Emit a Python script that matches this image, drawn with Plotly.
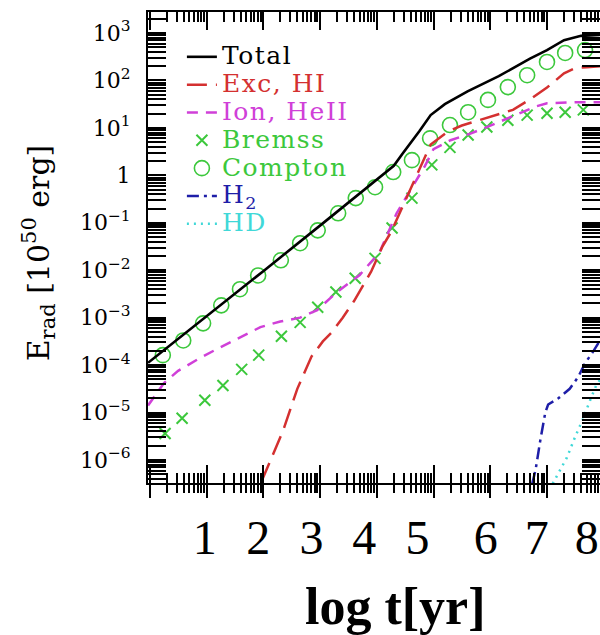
import numpy as np
import plotly.graph_objects as go

# ---- data (log t [yr], log10 E_rad [1e50 erg]) ----
total_logt = [-0.03, 1.0, 2.0, 3.0, 4.0, 4.3, 4.45, 4.6, 4.75, 4.95, 5.2, 5.6, 6.15, 6.7, 7.0, 7.3, 7.6, 7.93]
total_logE = [-3.95, -2.98, -2.02, -1.06, -0.10, 0.20, 0.45, 0.68, 0.93, 1.27, 1.50, 1.77, 2.09, 2.46, 2.64, 2.85, 2.94, 2.96]

exc_logt = [1.97, 2.35, 2.6, 2.85, 3.05, 3.2, 3.4, 3.6, 3.9, 4.1, 4.25, 4.5, 4.75, 4.95, 5.25, 5.5, 5.8, 6.1, 6.4, 6.7, 7.0, 7.3, 7.5, 7.7, 7.95]
exc_logE = [-6.45, -5.38, -4.5, -3.82, -3.5, -3.32, -3.0, -2.65, -2.03, -1.5, -1.2, -0.55, 0.1, 0.65, 0.92, 1.05, 1.16, 1.27, 1.38, 1.6, 1.85, 2.15, 2.26, 2.28, 2.3]

ion_logt = [-0.03, 0.25, 0.5, 0.9, 1.25, 1.6, 1.95, 2.3, 2.65, 2.95, 3.3, 3.7, 4.05, 4.35, 4.65, 4.85, 5.0, 5.3, 5.65, 5.95, 6.5, 6.8, 7.0, 7.5, 7.95]
ion_logE = [-4.85, -4.38, -4.12, -3.84, -3.62, -3.41, -3.2, -3.08, -3.0, -2.84, -2.46, -2.1, -1.62, -0.8, -0.2, 0.2, 0.55, 0.74, 0.88, 1.02, 1.3, 1.45, 1.52, 1.54, 1.54]

brem_logt = [0.27, 0.57, 0.97, 1.29, 1.62, 1.92, 2.32, 2.65, 2.96, 3.28, 3.62, 3.97, 4.27, 4.62, 4.97, 5.29, 5.61, 5.94, 6.31, 6.65, 7.0, 7.32, 7.64]
brem_logE = [-5.44, -5.12, -4.74, -4.43, -4.09, -3.79, -3.39, -3.10, -2.78, -2.46, -2.17, -1.75, -1.11, -0.48, 0.22, 0.59, 0.85, 1.02, 1.16, 1.27, 1.31, 1.33, 1.38]

comp_logt = [0.23, 0.59, 0.94, 1.26, 1.59, 1.91, 2.31, 2.65, 2.96, 3.32, 3.63, 3.97, 4.29, 4.62, 4.94, 5.29, 5.61, 5.96, 6.31, 6.65, 7.0, 7.32, 7.67]
comp_logE = [-3.79, -3.48, -3.12, -2.74, -2.40, -2.11, -1.79, -1.43, -1.16, -0.80, -0.48, -0.25, 0.07, 0.32, 0.78, 1.06, 1.33, 1.59, 1.86, 2.11, 2.39, 2.58, 2.64]

h2_logt = [6.74, 6.8, 6.88, 6.97, 7.02, 7.2, 7.4, 7.55, 7.67, 7.81, 7.95]
h2_logE = [-6.5, -6.2, -5.6, -5.0, -4.83, -4.7, -4.5, -4.25, -3.96, -3.72, -3.45]

hd_logt = [7.1, 7.2, 7.35, 7.5, 7.63, 7.76, 7.87, 7.95]
hd_logE = [-6.5, -6.28, -5.95, -5.5, -5.15, -4.74, -4.42, -4.28]

x_label_pos = [0.97, 1.91, 2.85, 3.78, 4.72, 5.92, 6.82, 7.70]
x_label_text = ["1", "2", "3", "4", "5", "6", "7", "8"]
y_tick_exp = [-6, -5, -4, -3, -2, -1, 0, 1, 2, 3]

# ---- styling ----
C_TOT = "#000000"
C_EXC = "#d43030"
C_ION = "#d040d8"
C_GRN = "#3cc83c"
C_H2 = "#1e1ea8"
C_HD = "#40d8d8"
SERIF = "DejaVu Serif"


def lname(txt, col):
    return f"<span style='font-size:25px;letter-spacing:1.5px;color:{col}'>{txt}</span>"


def E(v):
    return [10 ** x for x in v]


fig = go.Figure()
fig.add_trace(go.Scatter(x=comp_logt, y=E(comp_logE), mode="markers", name=lname("Compton", C_GRN),
                         marker=dict(symbol="circle-open", size=15, color=C_GRN, line=dict(width=1.6, color=C_GRN)),
                         legendrank=5))
fig.add_trace(go.Scatter(x=brem_logt, y=E(brem_logE), mode="markers", name=lname("Bremss", C_GRN),
                         marker=dict(symbol="x-thin-open", size=11, color=C_GRN, line=dict(width=2, color=C_GRN)),
                         legendrank=4))
fig.add_trace(go.Scatter(x=ion_logt, y=E(ion_logE), mode="lines", name=lname("Ion, HeII", C_ION),
                         line=dict(color=C_ION, width=2.5, dash="11px,8px"), legendrank=3))
fig.add_trace(go.Scatter(x=exc_logt, y=E(exc_logE), mode="lines", name=lname("Exc, HI", C_EXC),
                         line=dict(color=C_EXC, width=2.5, dash="20px,9px"), legendrank=2))
fig.add_trace(go.Scatter(x=total_logt, y=E(total_logE), mode="lines", name=lname("Total", C_TOT),
                         line=dict(color=C_TOT, width=2.6), legendrank=1))
fig.add_trace(go.Scatter(x=h2_logt, y=E(h2_logE), mode="lines", name=lname("H<sub>2</sub>", C_H2),
                         line=dict(color=C_H2, width=2.5, dash="12px,5px,3px,5px"), legendrank=6))
fig.add_trace(go.Scatter(x=hd_logt, y=E(hd_logE), mode="lines", name=lname("HD", C_HD),
                         line=dict(color=C_HD, width=2.5, dash="2px,5px"), legendrank=7))
# empty traces so the overlay axes (tick labels / outer ticks) get drawn
for ax in ("x2", "x3"):
    fig.add_trace(go.Scatter(x=[None], y=[None], xaxis=ax, yaxis="y", mode="markers",
                             showlegend=False, hoverinfo="skip"))

XR = [-0.031, 7.934]
YR = [-6.485, 3.443]
minor_x = [d + np.log10(k) for d in range(-1, 9) for k in range(2, 10)]
minor_x = [v for v in minor_x if XR[0] <= v <= XR[1]]
minor_y = [k * 10.0 ** d for d in range(-7, 4) for k in range(2, 10)]


def ytxt(e):
    if e == 0:
        return "1"
    s = str(e).replace("-", "\u2212")
    return f"10<sup>{s}</sup>"


fig.update_layout(
    width=600, height=635,
    margin=dict(l=148, r=0, t=12, b=152, autoexpand=False),
    paper_bgcolor="white", plot_bgcolor="white",
    showlegend=True,
    legend=dict(x=0.075, y=0.945, xanchor="left", yanchor="top", bgcolor="rgba(0,0,0,0)",
                font=dict(family=SERIF, size=19.1, color="black"), tracegroupgap=0, itemwidth=30),
    xaxis=dict(range=XR, showgrid=False, zeroline=False, showline=True, linecolor="black", linewidth=2,
               mirror="allticks", ticks="inside", ticklen=18, tickwidth=2, tickcolor="black",
               tickvals=list(range(0, 9)), showticklabels=False,
               minor=dict(tickmode="array", tickvals=minor_x, ticks="inside", ticklen=10, tickwidth=1.5,
                          tickcolor="black", showgrid=False)),
    xaxis3=dict(range=XR, overlaying="x", anchor="y", side="bottom", showgrid=False, zeroline=False,
                showline=False, ticks="outside", ticklen=14, tickwidth=2, tickcolor="black",
                tickvals=list(range(0, 9)), showticklabels=False,
                minor=dict(tickmode="array", tickvals=minor_x, ticks="outside", ticklen=9, tickwidth=1.5,
                           tickcolor="black", showgrid=False)),
    xaxis2=dict(range=XR, overlaying="x", anchor="y", side="bottom", showgrid=False, zeroline=False,
                showline=False, ticks="", tickvals=x_label_pos, ticktext=x_label_text,
                tickfont=dict(family="Liberation Serif", size=48, color="black"), ticklabelstandoff=22),
    yaxis=dict(type="log", range=YR, showgrid=False, zeroline=False, showline=True, linecolor="black",
               linewidth=2, mirror="allticks", ticks="inside", ticklen=18, tickwidth=2, tickcolor="black",
               tickvals=[10.0 ** e for e in y_tick_exp], ticktext=[ytxt(e) for e in y_tick_exp],
               tickfont=dict(family=SERIF, size=22, color="black"), ticklabelstandoff=11,
               minor=dict(tickmode="array", tickvals=minor_y, ticks="inside", ticklen=9, tickwidth=1.5,
                          tickcolor="black", showgrid=False)),
    annotations=[
        dict(text="<b>log t[yr]</b>", xref="paper", yref="paper", x=0.546, y=-0.263, xanchor="center",
             yanchor="middle", showarrow=False, font=dict(family="Liberation Serif", size=52, color="black")),
        dict(text="E<sub>rad</sub> [10<sup>50</sup> erg]", xref="paper", yref="paper", x=-0.243, y=0.488,
             xanchor="center", yanchor="middle", textangle=-90, showarrow=False,
             font=dict(family=SERIF, size=30, color="black")),
    ],
)

fig.write_html("out.html")
